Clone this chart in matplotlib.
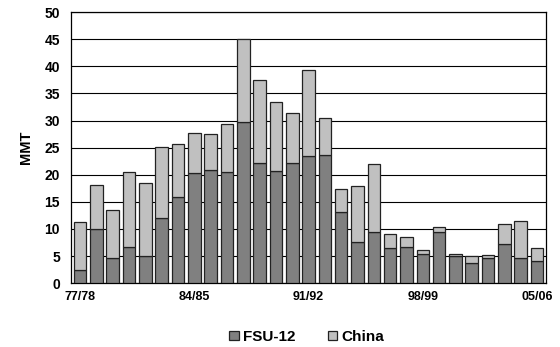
import matplotlib
matplotlib.use("Agg")
import matplotlib.pyplot as plt
import numpy as np

plt.rcParams['font.family'] = ['Liberation Sans', 'DejaVu Sans']

seasons = ["77/78", "78/79", "79/80", "80/81", "81/82", "82/83", "83/84", "84/85",
           "85/86", "86/87", "87/88", "88/89", "89/90", "90/91", "91/92", "92/93",
           "93/94", "94/95", "95/96", "96/97", "97/98", "98/99", "99/00", "00/01",
           "01/02", "02/03", "03/04", "04/05", "05/06"]
fsu12 = [2.5, 10.0, 4.6, 6.6, 5.1, 12.1, 15.9, 20.3, 20.8, 20.5, 29.8, 22.1, 20.6, 22.1,
         23.4, 23.7, 13.1, 7.6, 9.5, 6.5, 6.6, 5.3, 9.5, 5.1, 3.8, 4.6, 7.2, 4.6, 4.0]
total = [11.2, 18.2, 13.5, 20.5, 18.4, 25.2, 25.6, 27.7, 27.5, 29.3, 45.1, 37.5, 33.5, 31.4,
         39.3, 30.4, 17.3, 18.0, 22.0, 9.1, 8.6, 6.2, 10.4, 5.4, 5.0, 5.2, 11.0, 11.4, 6.5]
china = [t - f for t, f in zip(total, fsu12)]
tick_labels = ["77/78", "84/85", "91/92", "98/99", "05/06"]

fig = plt.figure(figsize=(5.6, 3.47), dpi=100)
ax = fig.add_axes([0.127, 0.184, 0.848, 0.781])

x = np.arange(len(seasons))
w = 0.77
ax.bar(x, fsu12, width=w, color="#808080", edgecolor="#222222", linewidth=0.9,
       label="FSU-12", zorder=3)
ax.bar(x, china, width=w, bottom=fsu12, color="#c0c0c0", edgecolor="#222222",
       linewidth=0.9, label="China", zorder=3)

ax.set_xlim(-0.55, len(seasons) - 0.45)
ax.set_ylim(0, 50)
ax.set_yticks(np.arange(0, 51, 5))
ax.yaxis.grid(True, color="black", linewidth=0.8, zorder=0)
ax.set_axisbelow(True)

tick_pos = [seasons.index(s) for s in tick_labels]
ax.set_xticks(tick_pos)
ax.set_xticklabels(tick_labels)
ax.tick_params(axis='x', length=0, pad=6)
ax.tick_params(axis='y', length=0, pad=8)
for lbl in ax.get_xticklabels():
    lbl.set_fontweight('bold')
    lbl.set_fontsize(9)
for lbl in ax.get_yticklabels():
    lbl.set_fontweight('bold')
    lbl.set_fontsize(10)

ax.set_ylabel("MMT", fontweight='bold', fontsize=10.5)
ax.yaxis.set_label_coords(-0.08, 0.5)
for s in ax.spines.values():
    s.set_color("black")
    s.set_linewidth(0.9)

fig.legend(loc="center", bbox_to_anchor=(0.548, 0.029), ncol=2, frameon=False,
           prop={'weight': 'bold', 'size': 11}, handlelength=0.6, handleheight=0.6,
           columnspacing=2.1, handletextpad=0.3)

fig.savefig("out.png", dpi=100)
